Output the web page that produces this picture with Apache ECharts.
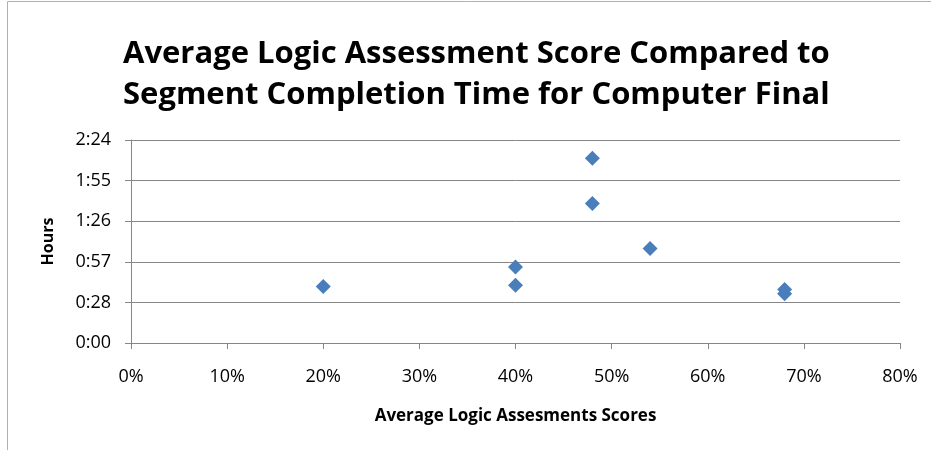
<!DOCTYPE html>
<html>
<head>
<meta charset="utf-8">
<title>Logic Assessment vs Completion Time</title>
<script src="https://cdn.jsdelivr.net/npm/echarts@6/dist/echarts.min.js"></script>
<style>
  html, body { margin: 0; padding: 0; background: #fff; }
  #chart { width: 931px; height: 450px; }
</style>
</head>
<body>
<div id="chart"></div>
<script>
// scores in %, times in minutes
var scores  = [20, 40, 40, 48, 48, 54, 68, 68];
var minutes = [40, 54, 41, 131, 99, 67, 38, 35];
var xTicks = ['0%', '10%', '20%', '30%', '40%', '50%', '60%', '70%', '80%'];
var yTicks = ['0:00', '0:28', '0:57', '1:26', '1:55', '2:24'];
var yStep = 28.8; // 0.02 day

var points = [];
for (var i = 0; i < scores.length; i++) {
  points.push([scores[i], minutes[i]]);
}

var chart = echarts.init(document.getElementById('chart'));
var font = '"Open Sans", Lato, sans-serif';

var option = {
  backgroundColor: '#fff',
  animation: false,
  title: {
    text: 'Average Logic Assessment Score Compared to\nSegment Completion Time for Computer Final',
    left: 118,
    top: 29,
    textStyle: {
      fontFamily: font,
      fontWeight: 'bold',
      fontSize: 31,
      lineHeight: 41,
      color: '#000'
    },
    textAlign: 'left'
  },
  graphic: [{
    type: 'rect',
    shape: { x: 7.5, y: 1.5, width: 930, height: 460 },
    style: { fill: 'none', stroke: '#b0b0b0', lineWidth: 1 }
  }],
  grid: { left: 131, right: 31, top: 140, bottom: 107 },
  xAxis: {
    type: 'value',
    min: 0,
    max: 80,
    interval: 10,
    name: 'Average Logic Assesments Scores',
    nameLocation: 'middle',
    nameGap: 65,
    nameTextStyle: { fontFamily: font, fontWeight: 'bold', fontSize: 17, color: '#000' },
    axisLine: { show: true, lineStyle: { color: '#868686', width: 1 } },
    axisTick: { show: true, length: 6, lineStyle: { color: '#868686' } },
    axisLabel: {
      fontFamily: font, fontSize: 18, color: '#000', margin: 25,
      formatter: function (v) { return xTicks[Math.round(v / 10)]; }
    },
    splitLine: { show: false }
  },
  yAxis: {
    type: 'value',
    min: 0,
    max: 144,
    interval: yStep,
    name: 'Hours',
    nameLocation: 'middle',
    nameGap: 75,
    nameTextStyle: { fontFamily: font, fontWeight: 'bold', fontSize: 16, color: '#000' },
    axisLine: { show: true, lineStyle: { color: '#868686', width: 1 } },
    axisTick: { show: true, length: 6, lineStyle: { color: '#868686' } },
    axisLabel: {
      fontFamily: font, fontSize: 18, color: '#000', margin: 20,
      formatter: function (v) { return yTicks[Math.round(v / yStep)]; }
    },
    splitLine: { show: true, lineStyle: { color: '#868686', width: 1 } }
  },
  series: [{
    type: 'scatter',
    symbol: 'diamond',
    symbolSize: 15,
    itemStyle: { color: '#4a7ebb', opacity: 1 },
    data: points
  }]
};

chart.setOption(option);
</script>
</body>
</html>
